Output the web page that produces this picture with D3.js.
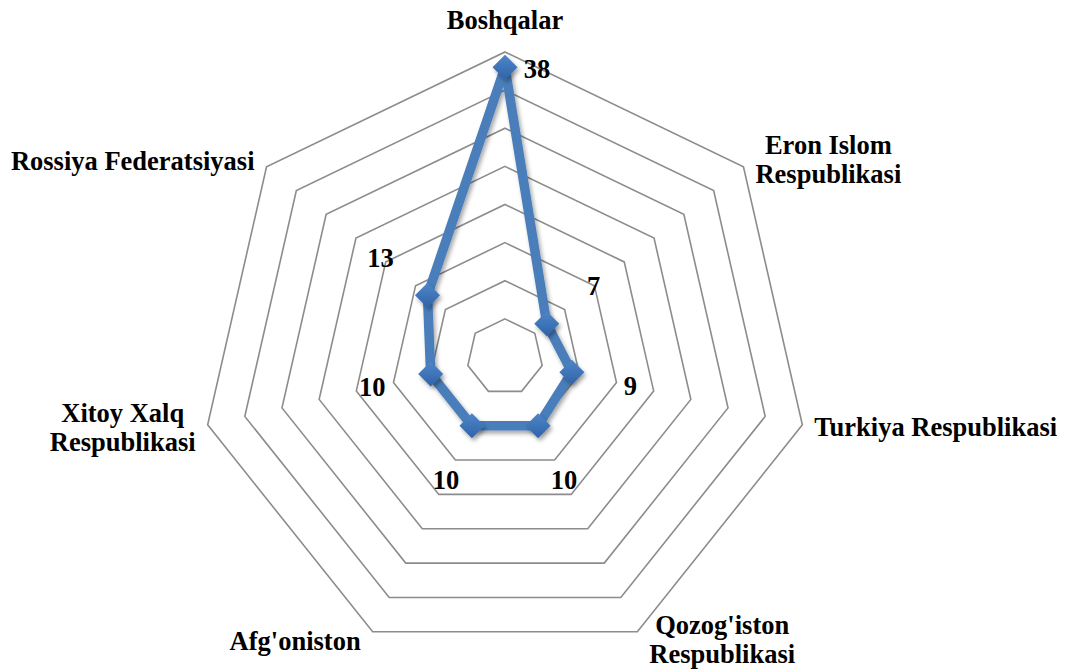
<!DOCTYPE html>
<html>
<head>
<meta charset="utf-8">
<script src="https://cdn.jsdelivr.net/npm/d3@7"></script>
<style>
  html, body { margin: 0; padding: 0; background: #fff; }
  svg text { font-family: "Liberation Serif", "Times New Roman", serif; font-weight: bold; fill: #000; }
</style>
</head>
<body>
<svg id="chart" width="1071" height="670"></svg>
<script>
// categories, clockwise from the top ("\n" marks where the label wraps)
const categories = [
    "Boshqalar",
    "Eron Islom\nRespublikasi",
    "Turkiya Respublikasi",
    "Qozog'iston\nRespublikasi",
    "Afg'oniston",
    "Xitoy Xalq\nRespublikasi",
    "Rossiya Federatsiyasi"
];
const values = [38, 7, 9, 10, 10, 10, 13];
const ringTicks = [5, 10, 15, 20, 25, 30, 35, 40];

const svg = d3.select('#chart');
const width = 1071, height = 670;
const cx = 505, cy = 357, R = 305;
const n = categories.length;
const fontSize = 26.5;

const r = d3.scaleLinear().domain([0, 40]).range([0, R]);
const angle = i => i * 2 * Math.PI / n;
const pt = (i, rad) => [cx + rad * Math.sin(angle(i)), cy - rad * Math.cos(angle(i))];

// marker shadow + gradient
const defs = svg.append('defs');
const shadow = defs.append('filter').attr('id', 'shadow')
    .attr('x', '-50%').attr('y', '-50%').attr('width', '200%').attr('height', '200%');
shadow.append('feDropShadow').attr('dx', 2).attr('dy', 3).attr('stdDeviation', 2)
    .attr('flood-color', '#000').attr('flood-opacity', 0.35);
const grad = defs.append('linearGradient').attr('id', 'mk')
    .attr('x1', '0%').attr('y1', '0%').attr('x2', '0%').attr('y2', '100%');
grad.append('stop').attr('offset', '0%').attr('stop-color', '#4f86c9');
grad.append('stop').attr('offset', '100%').attr('stop-color', '#2f63a8');

const g = svg.append('g').attr('transform', `translate(${cx},${cy})`);

// grid rings
const ring = d3.lineRadial().angle((d, i) => angle(i)).radius(d => d).curve(d3.curveLinearClosed);
g.append('g').selectAll('path')
    .data(ringTicks)
    .join('path')
    .attr('d', t => ring(d3.range(n).map(() => r(t))))
    .attr('fill', 'none')
    .attr('stroke', '#8c8c8c')
    .attr('stroke-width', 1.6);

// series
const line = d3.lineRadial().angle((d, i) => angle(i)).radius(d => r(d)).curve(d3.curveLinearClosed);
g.append('path')
    .attr('d', line(values))
    .attr('fill', 'none')
    .attr('stroke', '#4a7ebb')
    .attr('stroke-width', 9.5)
    .attr('stroke-linejoin', 'miter')
    .attr('filter', 'url(#shadow)');

const mk = 12.5;
svg.append('g').selectAll('path')
    .data(values)
    .join('path')
    .attr('d', (v, i) => {
        const [x, y] = pt(i, r(v));
        return `M${x},${y - mk}L${x + mk},${y}L${x},${y + mk}L${x - mk},${y}Z`;
    })
    .attr('fill', 'url(#mk)')
    .attr('filter', 'url(#shadow)');

// data labels
svg.append('g').selectAll('text')
    .data(values)
    .join('text')
    .attr('x', (v, i) => i === 0 ? pt(i, r(v))[0] + 32 : pt(i, r(v) + 60)[0])
    .attr('y', (v, i) => i === 0 ? pt(i, r(v))[1] + 2 : pt(i, r(v) + 60)[1])
    .attr('text-anchor', 'middle')
    .attr('dominant-baseline', 'central')
    .style('font-size', fontSize + 'px')
    .text(v => v);

// category labels
const lineH = 29;
categories.forEach((name, i) => {
    const lines = name.split('\n');
    const [vx, vy] = pt(i, R);
    const s = Math.sin(angle(i)), c = Math.cos(angle(i));
    const t = svg.append('text')
        .attr('text-anchor', 'middle')
        .style('font-size', fontSize + 'px');
    t.selectAll('tspan').data(lines).join('tspan').text(d => d);
    const w = d3.max(t.selectAll('tspan').nodes(), nd => nd.getComputedTextLength());
    let x, yc;
    if (Math.abs(s) < 0.01) {
        x = vx; yc = vy - 32;
    } else if (s > 0) {
        x = vx + 12 + w / 2; yc = vy - c * 11;
    } else {
        x = vx - 12 - w / 2; yc = vy - c * 10;
    }
    let y0 = yc - (lines.length - 1) * lineH / 2;
    // keep the last line inside the picture
    y0 = Math.min(y0, height - 16 - (lines.length - 1) * lineH);
    t.selectAll('tspan')
        .attr('x', x)
        .attr('y', (d, k) => y0 + k * lineH)
        .attr('dominant-baseline', 'central');
});
</script>
</body>
</html>
